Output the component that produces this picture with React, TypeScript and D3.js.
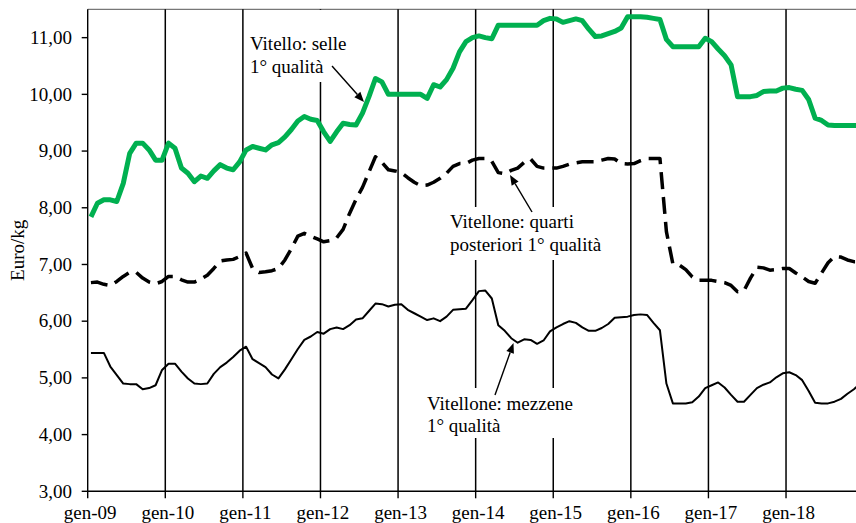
import React from "react";
import * as d3 from "d3";

// Monthly prices (Euro/kg), gen-09 .. dic-18
const vitelloSelle: number[] = [
  7.84, 8.08, 8.14, 8.14, 8.11, 8.43, 8.96, 9.14, 9.14, 9.02, 8.84, 8.84,
  9.14, 9.05, 8.70, 8.61, 8.46, 8.56, 8.52, 8.65, 8.76, 8.70, 8.67, 8.81,
  9.02, 9.08, 9.05, 9.02, 9.11, 9.15, 9.25, 9.38, 9.53, 9.61, 9.56, 9.54,
  9.34, 9.17, 9.34, 9.49, 9.47, 9.46, 9.67, 9.96, 10.28, 10.22, 10.0, 10.0,
  10.0, 10.0, 10.0, 10.0, 9.93, 10.17, 10.13, 10.26, 10.46, 10.75, 10.93, 11.0,
  11.03, 11.0, 10.98, 11.22, 11.22, 11.22, 11.22, 11.22, 11.22, 11.22, 11.30, 11.34,
  11.33, 11.27, 11.30, 11.33, 11.30, 11.15, 11.02, 11.03, 11.07, 11.11, 11.17, 11.37,
  11.37, 11.37, 11.36, 11.34, 11.32, 10.97, 10.84, 10.84, 10.84, 10.84, 10.84, 10.99,
  10.93, 10.80, 10.68, 10.52, 9.96, 9.96, 9.96, 9.98, 10.05, 10.06, 10.06, 10.11,
  10.12, 10.09, 10.07, 9.91, 9.58, 9.54, 9.46, 9.45, 9.45, 9.45, 9.45, 9.45,
];

const vitelloneQuarti: number[] = [
  6.68, 6.69, 6.65, 6.63, 6.70, 6.79, 6.86, 6.86, 6.76, 6.69, 6.66, 6.70,
  6.79, 6.79, 6.73, 6.69, 6.69, 6.74, 6.81, 6.93, 7.06, 7.08, 7.09, 7.14,
  7.20, 6.93, 6.86, 6.87, 6.89, 6.93, 7.08, 7.28, 7.50, 7.55, 7.50, 7.45,
  7.40, 7.42, 7.47, 7.62, 7.90, 8.15, 8.36, 8.63, 8.90, 8.80, 8.67, 8.65,
  8.62, 8.53, 8.45, 8.39, 8.40, 8.45, 8.52, 8.61, 8.73, 8.78, 8.78, 8.84,
  8.87, 8.87, 8.82, 8.62, 8.60, 8.66, 8.70, 8.80, 8.86, 8.73, 8.70, 8.70,
  8.70, 8.73, 8.77, 8.79, 8.81, 8.81, 8.81, 8.84, 8.87, 8.86, 8.78, 8.77,
  8.78, 8.83, 8.87, 8.87, 8.87, 7.58, 7.01, 6.99, 6.91, 6.78, 6.72, 6.72,
  6.72, 6.70, 6.68, 6.63, 6.52, 6.54, 6.76, 6.95, 6.94, 6.90, 6.91, 6.93,
  6.93, 6.85, 6.78, 6.70, 6.67, 6.85, 7.03, 7.14, 7.13, 7.08, 7.05, 7.05,
];

const vitelloneMezzene: number[] = [
  5.44, 5.44, 5.44, 5.20, 5.05, 4.90, 4.89, 4.89, 4.80, 4.82, 4.87, 5.14,
  5.25, 5.25, 5.11, 4.99, 4.90, 4.89, 4.90, 5.07, 5.19, 5.27, 5.37, 5.48,
  5.55, 5.33, 5.26, 5.19, 5.06, 4.99, 5.15, 5.33, 5.51, 5.67, 5.73, 5.81,
  5.78, 5.86, 5.89, 5.86, 5.93, 6.03, 6.05, 6.18, 6.31, 6.30, 6.26, 6.29,
  6.30, 6.20, 6.14, 6.08, 6.02, 6.05, 6.00, 6.08, 6.20, 6.21, 6.22, 6.37,
  6.53, 6.54, 6.40, 5.93, 5.83, 5.70, 5.62, 5.68, 5.67, 5.60, 5.66, 5.82,
  5.89, 5.95, 6.00, 5.97, 5.89, 5.83, 5.83, 5.88, 5.95, 6.06, 6.07, 6.08,
  6.11, 6.12, 6.11, 5.97, 5.84, 4.90, 4.55, 4.55, 4.55, 4.57, 4.67, 4.82,
  4.87, 4.92, 4.83, 4.70, 4.58, 4.58, 4.70, 4.82, 4.88, 4.92, 5.01, 5.08,
  5.10, 5.05, 4.96, 4.77, 4.56, 4.55, 4.55, 4.58, 4.63, 4.72, 4.80, 4.90,
];

const yearLabels: string[] = [
  "gen-09", "gen-10", "gen-11", "gen-12", "gen-13",
  "gen-14", "gen-15", "gen-16", "gen-17", "gen-18",
];
const yTicks: number[] = [3, 4, 5, 6, 7, 8, 9, 10, 11];

const W = 856;
const H = 523;
const left = 87.7;
const top = 9.3;
const bottom = 491.3;
const monthW = 6.466;
const FONT = "'Liberation Serif', 'Times New Roman', serif";
const FS = 19;

const itFmt = d3.formatLocale({
  decimal: ",",
  thousands: ".",
  grouping: [3],
  currency: ["€", ""],
}).format(".2f");

function Arrow({ x1, y1, x2, y2 }: { x1: number; y1: number; x2: number; y2: number }) {
  const ang = Math.atan2(y2 - y1, x2 - x1);
  const len = 10;
  const half = 4;
  const bx = x2 - len * Math.cos(ang);
  const by = y2 - len * Math.sin(ang);
  const px = -Math.sin(ang) * half;
  const py = Math.cos(ang) * half;
  return (
    <g>
      <line x1={x1} y1={y1} x2={bx} y2={by} stroke="#000" strokeWidth={1.4} />
      <polygon
        points={`${x2},${y2} ${bx + px},${by + py} ${bx - px},${by - py}`}
        fill="#000"
      />
    </g>
  );
}

export default function App() {
  const x = d3.scaleLinear().domain([0, 120]).range([left, left + 120 * monthW]);
  const y = d3.scaleLinear().domain([3, 11.5]).range([bottom, top]);

  const line = d3
    .line<number>()
    .x((_, i) => x(i + 0.5))
    .y((d) => y(d));

  const yearTicks = yearLabels.map((_, k) => k * 12);

  return (
    <div style={{ position: "absolute", left: 0, top: 0, width: W, height: H, background: "#fff" }}>
      <svg width={W} height={H} style={{ display: "block" }}>
        <rect x={0} y={0} width={W} height={H} fill="#fff" />
        {/* top border */}
        <line x1={left} x2={W} y1={top} y2={top} stroke="#555" strokeWidth={1} />
        {/* vertical year gridlines */}
        {yearTicks.map((t, k) =>
          k === 0 ? null : (
            <line
              key={"g" + t}
              x1={x(t)}
              x2={x(t)}
              y1={top}
              y2={bottom}
              stroke="#000"
              strokeWidth={1.5}
            />
          )
        )}
        {/* label background boxes */}
        <rect x={246} y={10} width={106} height={72} fill="#fff" />
        <rect x={445} y={207} width={177} height={53} fill="#fff" />
        <rect x={420} y={388} width={160} height={50} fill="#fff" />

        {/* axes */}
        <line x1={left} x2={left} y1={top} y2={bottom} stroke="#000" strokeWidth={1.4} />
        <line x1={left} x2={W} y1={bottom} y2={bottom} stroke="#000" strokeWidth={1.4} />
        {yTicks.map((v) => (
          <g key={"y" + v}>
            <line x1={left - 6} x2={left} y1={y(v)} y2={y(v)} stroke="#000" strokeWidth={1.4} />
            <text
              x={72}
              y={y(v)}
              dy="0.33em"
              textAnchor="end"
              fontFamily={FONT}
              fontSize={FS}
              fill="#000"
            >
              {itFmt(v)}
            </text>
          </g>
        ))}
        {yearTicks.map((t, k) => (
          <g key={"x" + t}>
            <line x1={x(t)} x2={x(t)} y1={bottom} y2={bottom + 7} stroke="#000" strokeWidth={1.4} />
            <text
              x={x(t) + 2.5}
              y={519}
              textAnchor="middle"
              fontFamily={FONT}
              fontSize={FS}
              fill="#000"
            >
              {yearLabels[k]}
            </text>
          </g>
        ))}
        <text
          transform={`translate(24,${(top + bottom) / 2}) rotate(-90)`}
          textAnchor="middle"
          fontFamily={FONT}
          fontSize={FS}
          fill="#000"
        >
          Euro/kg
        </text>

        {/* series */}
        <path
          d={line(vitelloneMezzene) || ""}
          fill="none"
          stroke="#000"
          strokeWidth={2}
          strokeLinejoin="round"
        />
        <path
          d={line(vitelloneQuarti) || ""}
          fill="none"
          stroke="#000"
          strokeWidth={3.5}
          strokeDasharray="17 8"
          strokeLinejoin="round"
        />
        <path
          d={line(vitelloSelle) || ""}
          fill="none"
          stroke="#00B050"
          strokeWidth={5}
          strokeLinejoin="round"
        />

        {/* annotations */}
        <text x={250} y={50} fontFamily={FONT} fontSize={FS} fill="#000">
          Vitello: selle
        </text>
        <text x={250} y={73} fontFamily={FONT} fontSize={FS} fill="#000">
          1° qualità
        </text>
        <Arrow x1={332} y1={66} x2={364} y2={102} />

        <text x={450} y={228} fontFamily={FONT} fontSize={FS} fill="#000">
          Vitellone: quarti
        </text>
        <text x={450} y={251} fontFamily={FONT} fontSize={FS} fill="#000">
          posteriori 1° qualità
        </text>
        <Arrow x1={532} y1={212} x2={510} y2={175} />

        <text x={427} y={410} fontFamily={FONT} fontSize={FS} fill="#000">
          Vitellone: mezzene
        </text>
        <text x={427} y={432} fontFamily={FONT} fontSize={FS} fill="#000">
          1° qualità
        </text>
        <Arrow x1={495} y1={395} x2={513.5} y2={343} />
      </svg>
    </div>
  );
}
